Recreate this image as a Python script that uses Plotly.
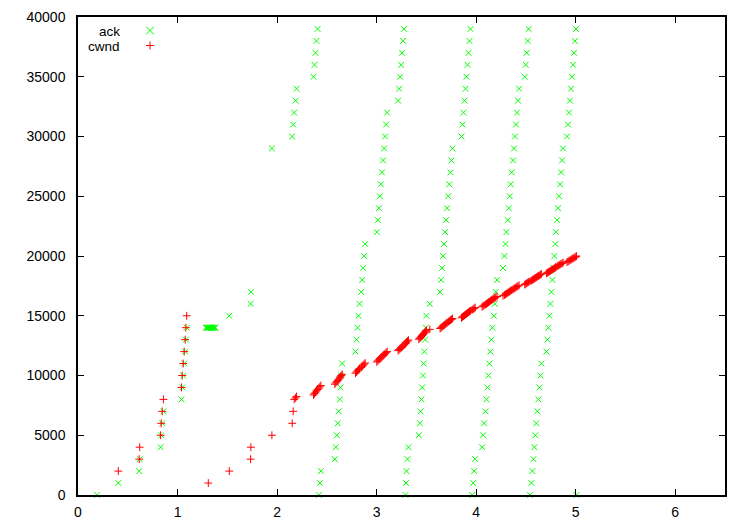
import plotly.graph_objects as go

# --- data (time in s, ack sequence number, cwnd at that ack) ---
ack_time = [
    0.19, 0.405, 0.615, 0.62, 0.83, 0.836, 0.846, 0.858,
    1.04, 1.047, 1.057, 1.067, 1.077, 1.084, 1.092,
    1.285, 1.293, 1.301, 1.309, 1.317, 1.325, 1.333, 1.341, 1.349, 1.357, 1.365, 1.373, 1.381,
    1.52, 1.734, 1.737, 1.948,
    2.152, 2.162, 2.172, 2.186, 2.196,
    2.366, 2.376, 2.386, 2.396, 2.407,
    2.42, 2.43, 2.44,
    2.58, 2.59, 2.60, 2.61, 2.62, 2.63, 2.637, 2.644, 2.654,
    2.788, 2.798, 2.808, 2.818, 2.828, 2.845, 2.855, 2.865, 2.875, 2.885,
    3.002, 3.012, 3.022, 3.032, 3.042, 3.054, 3.065, 3.075, 3.085, 3.096, 3.106,
    3.216, 3.226, 3.236, 3.246, 3.256, 3.266, 3.276,
    3.29, 3.295, 3.30, 3.31, 3.32,
    3.424, 3.434, 3.442, 3.45, 3.458, 3.465, 3.472, 3.48, 3.487, 3.494, 3.50, 3.534,
    3.638, 3.648, 3.658, 3.668, 3.678, 3.688, 3.698, 3.708, 3.72, 3.73, 3.742, 3.752, 3.762,
    3.853, 3.863, 3.873, 3.883, 3.893, 3.903, 3.913, 3.923, 3.933, 3.943,
    3.96, 3.97, 3.98, 3.99,
    4.06, 4.07, 4.08, 4.094, 4.104, 4.114, 4.124, 4.133, 4.143, 4.153, 4.163, 4.177, 4.187, 4.197, 4.21,
    4.27, 4.284, 4.294, 4.304, 4.317, 4.327, 4.337, 4.347, 4.357, 4.37, 4.38, 4.39, 4.40, 4.41, 4.42, 4.431,
    4.488, 4.498, 4.508, 4.518, 4.528,
    4.54, 4.555, 4.565, 4.575, 4.585, 4.595, 4.605, 4.615, 4.625, 4.635, 4.645, 4.655,
    4.706, 4.716, 4.726, 4.736, 4.746, 4.756, 4.766, 4.776, 4.786, 4.796, 4.80, 4.813, 4.823,
    4.833, 4.843, 4.853, 4.863, 4.873,
    4.913, 4.923, 4.933, 4.943, 4.953, 4.963, 4.973, 4.983, 4.993, 5.003,
    5.007,
]

ack_seq = [
    0, 1000, 2000, 3000, 4000, 5000, 6000, 7000,
    8000, 9000, 10000, 11000, 12000, 13000, 14000,
    14000, 14000, 14000, 14000, 14000, 14000, 14000, 14000, 14000, 14000, 14000, 14000, 14000,
    15000, 16000, 17000, 29000,
    30000, 31000, 32000, 33000, 34000,
    35000, 36000, 37000, 38000, 39000,
    0, 1000, 2000,
    3000, 4000, 5000, 6000, 7000, 8000, 9000, 10000, 11000,
    12000, 13000, 14000, 15000, 16000, 17000, 18000, 19000, 20000, 21000,
    22000, 23000, 24000, 25000, 26000, 27000, 28000, 29000, 30000, 31000, 32000,
    33000, 34000, 35000, 36000, 37000, 38000, 39000,
    0, 1000, 2000, 3000, 4000,
    5000, 6000, 7000, 8000, 9000, 10000, 11000, 12000, 13000, 14000, 15000, 16000,
    17000, 18000, 19000, 20000, 21000, 22000, 23000, 24000, 25000, 26000, 27000, 28000, 29000,
    30000, 31000, 32000, 33000, 34000, 35000, 36000, 37000, 38000, 39000,
    0, 1000, 2000, 3000,
    4000, 5000, 6000, 7000, 8000, 9000, 10000, 11000, 12000, 13000, 14000, 15000, 16000, 17000, 18000,
    19000, 20000, 21000, 22000, 23000, 24000, 25000, 26000, 27000, 28000, 29000, 30000, 31000, 32000, 33000, 34000,
    35000, 36000, 37000, 38000, 39000,
    0, 1000, 2000, 3000, 4000, 5000, 6000, 7000, 8000, 9000, 10000, 11000,
    12000, 13000, 14000, 15000, 16000, 17000, 18000, 19000, 20000, 21000, 22000, 23000, 24000,
    25000, 26000, 27000, 28000, 29000,
    30000, 31000, 32000, 33000, 34000, 35000, 36000, 37000, 38000, 39000,
    0,
]

cwnd_at_ack = [
    None, 2000, 3000, 4000, 5000, 6000, 7000, 8000,
    9000, 10000, 11000, 12000, 13000, 14000, 15000,
    None, None, None, 1000, None, None, None, None, None, None, None, None, None,
    2000, 3000, 4000, 5000,
    6000, 7000, 8000, 8124, 8246,
    8367, 8485, 8602, 8718, 8832,
    8944, 9055, 9165,
    9274, 9381, 9487, 9592, 9695, 9798, 9899, 10000, 10100,
    10198, 10296, 10392, 10488, 10583, 10677, 10770, 10863, 10954, 11045,
    11136, 11225, 11314, 11402, 11489, 11576, 11662, 11747, 11832, 11916, 12000,
    12083, 12166, 12247, 12329, 12410, 12490, 12570,
    12649, 12728, 12806, 12884, 12961,
    13038, 13115, 13191, 13266, 13342, 13416, 13491, 13565, 13638, 13711, 13784, 13856,
    13928, 14000, 14071, 14142, 14213, 14283, 14353, 14422, 14491, 14560, 14629, 14697, 14765,
    14832, 14900, 14967, 15033, 15100, 15166, 15232, 15297, 15362, 15427,
    15492, 15556, 15620, 15684,
    15748, 15811, 15875, 15937, 16000, 16062, 16125, 16186, 16248, 16310, 16371, 16432, 16492, 16553, 16613,
    16673, 16733, 16793, 16852, 16912, 16971, 17029, 17088, 17146, 17205, 17263, 17321, 17378, 17436, 17493, 17550,
    17607, 17664, 17720, 17776, 17833,
    17889, 17944, 18000, 18055, 18111, 18166, 18221, 18276, 18330, 18385, 18439, 18493,
    18547, 18601, 18655, 18708, 18762, 18815, 18868, 18921, 18974, 19026, 19079, 19131, 19183,
    19235, 19287, 19339, 19391, 19442,
    19494, 19545, 19596, 19647, 19698, 19748, 19799, 19849, 19900, 19950,
    20000,
]

x_ticks = [0, 1, 2, 3, 4, 5, 6]
y_ticks = [0, 5000, 10000, 15000, 20000, 25000, 30000, 35000, 40000]
series_names = ["ack", "cwnd"]

GREEN = "#00ff00"
RED = "#ff0000"
FONT = "Liberation Sans"

cwnd_t = [t for t, c in zip(ack_time, cwnd_at_ack) if c is not None]
cwnd_v = [c for c in cwnd_at_ack if c is not None]

fig = go.Figure()
fig.add_trace(go.Scatter(
    x=ack_time, y=ack_seq, mode="markers", name=series_names[0],
    cliponaxis=False, showlegend=False,
    marker=dict(symbol="x-thin", size=5.8, color=GREEN, line=dict(color=GREEN, width=1)),
))
fig.add_trace(go.Scatter(
    x=cwnd_t, y=cwnd_v, mode="markers", name=series_names[1],
    cliponaxis=False, showlegend=False,
    marker=dict(symbol="cross-thin", size=5.6, color=RED, line=dict(color=RED, width=1)),
))

# page body has an 8px margin, so the figure is made 8px smaller and offsets are corrected
OFF = 8
W, H = 750 - OFF, 525 - OFF
PL, PR, PT, PB = 78, 725, 17, 495          # plot-area edges in window pixels
ML, MT = PL - OFF, PT - OFF
MR, MB = (OFF + W) - PR, (OFF + H) - PB
pw, ph = PR - PL, PB - PT

def px_x(px):
    return (px - PL) / pw

def px_y(py):
    return (PB - py) / ph

# gnuplot-style key: label on the left, sample symbol on the right
key_rows = [(30.5, series_names[0], GREEN, "M-4,-4 L4,4 M-4,4 L4,-4"),
            (45.5, series_names[1], RED, "M-4,0 L4,0 M0,-4 L0,4")]
annotations = []
shapes = []
for py, label, col, path in key_rows:
    annotations.append(dict(
        x=px_x(121), y=px_y(py), xref="paper", yref="paper", text=label,
        showarrow=False, xanchor="right", yanchor="middle", height=14,
        borderpad=0,
        font=dict(family=FONT, size=13.5, color="black"),
    ))
    shapes.append(dict(
        type="path", xref="paper", yref="paper", xsizemode="pixel", ysizemode="pixel",
        xanchor=px_x(150), yanchor=px_y(py), path=path,
        line=dict(color=col, width=1),
    ))

axis_common = dict(
    showline=True, linecolor="black", linewidth=1.5, mirror="allticks",
    ticks="inside", ticklen=6, tickwidth=1, tickcolor="black",
    showgrid=False, zeroline=False,
    tickfont=dict(family=FONT, size=14, color="black"),
)

fig.update_layout(
    width=W, height=H,
    margin=dict(l=ML, r=MR, t=MT, b=MB, autoexpand=False),
    paper_bgcolor="white", plot_bgcolor="white",
    font=dict(family=FONT, size=14, color="black"),
    xaxis=dict(range=[0, 6.5], tickvals=x_ticks, ticktext=[str(v) for v in x_ticks],
               ticklabelstandoff=3, **axis_common),
    yaxis=dict(range=[0, 40000], tickvals=y_ticks, ticktext=[str(v) for v in y_ticks],
               ticklabelstandoff=8, **axis_common),
    annotations=annotations,
    shapes=shapes,
    showlegend=False,
)

fig.write_html("out.html")
